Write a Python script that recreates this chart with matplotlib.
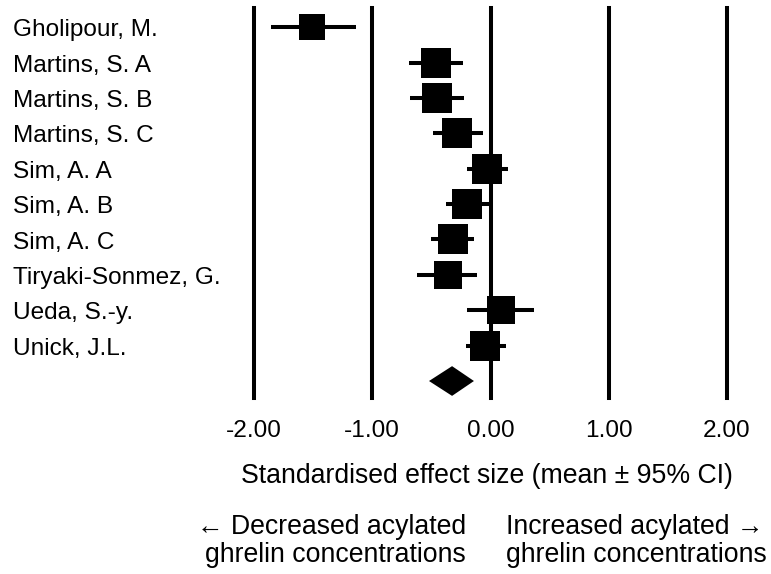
import matplotlib
matplotlib.use("Agg")
import matplotlib.pyplot as plt
from matplotlib.patches import Polygon
from matplotlib.transforms import blended_transform_factory

plt.rcParams['font.family'] = ['Liberation Sans', 'DejaVu Sans']

studies = ["Gholipour, M.", "Martins, S. A", "Martins, S. B", "Martins, S. C",
           "Sim, A. A", "Sim, A. B", "Sim, A. C", "Tiryaki-Sonmez, G.",
           "Ueda, S.-y.", "Unick, J.L."]
means = [-1.51, -0.46, -0.45, -0.28, -0.03, -0.20, -0.32, -0.36, 0.085, -0.045]
lower = [-1.86, -0.69, -0.68, -0.49, -0.20, -0.375, -0.50, -0.62, -0.20, -0.21]
upper = [-1.14, -0.23, -0.22, -0.06, 0.15, 0.00, -0.14, -0.11, 0.37, 0.13]
box_sizes = [18.7, 20.9, 20.9, 20.9, 20.9, 20.9, 20.9, 20.5, 20.5, 20.9]
pooled_mean = -0.325
pooled_lower = -0.52
pooled_upper = -0.14
ticks = [-2, -1, 0, 1, 2]
tick_labels = ["-2.00", "-1.00", "0.00", "1.00", "2.00"]

W, H = 771, 574
fig = plt.figure(figsize=(W / 100, H / 100), dpi=100)
ax = fig.add_axes([254 / W, 1 - 398 / H, (727 - 254) / W, (398 - 8) / H])
ax.set_xlim(-2, 2)
ax.set_ylim(10.48, -0.54)

for t in ticks:
    ax.axvline(t, color='black', lw=2.9, clip_on=False, zorder=1)

for i, (m, lo, hi, s) in enumerate(zip(means, lower, upper, box_sizes)):
    ax.plot([lo, hi], [i, i], color='black', lw=2.9, solid_capstyle='butt', zorder=2)
    ax.plot([m], [i], marker='s', color='black', markersize=s, mew=0, zorder=3)

n = len(studies)
diamond = Polygon([[pooled_lower, n], [pooled_mean, n - 0.42],
                   [pooled_upper, n], [pooled_mean, n + 0.42]],
                  closed=True, color='black', lw=0, zorder=3)
ax.add_patch(diamond)

trans = blended_transform_factory(fig.transFigure, ax.transData)
for i, name in enumerate(studies):
    ax.text(13 / W, i + 0.09, name, transform=trans, ha='left', va='center', fontsize=17.6)

for sp in ax.spines.values():
    sp.set_visible(False)
ax.set_yticks([])
ax.set_xticks(ticks)
ax.set_xticklabels(tick_labels, fontsize=17.6)
ax.tick_params(axis='x', length=0, pad=15.5)

fig.text(487 / W, 1 - 476 / H, "Standardised effect size (mean ± 95% CI)",
         ha='center', va='center', fontsize=19.2)
fig.text(466 / W, 1 - 541 / H, "← Decreased acylated\nghrelin concentrations",
         ha='right', va='center', fontsize=19.2, linespacing=1.05, multialignment='right')
fig.text(506 / W, 1 - 541 / H, "Increased acylated →\nghrelin concentrations",
         ha='left', va='center', fontsize=19.2, linespacing=1.05, multialignment='left')

fig.savefig("out.png", dpi=100)
